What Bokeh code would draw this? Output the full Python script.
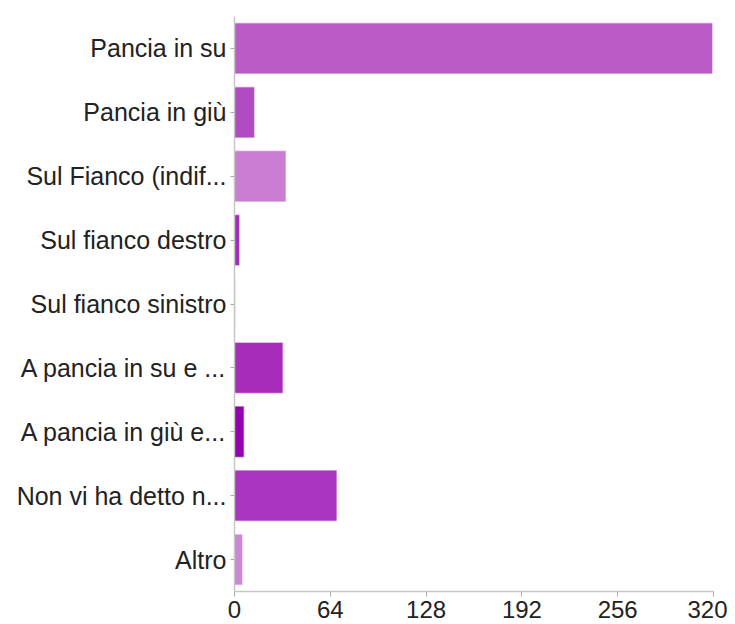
from bokeh.plotting import figure
from bokeh.models import ColumnDataSource, FactorRange, Range1d, FixedTicker
from bokeh.embed import file_html
from bokeh.resources import INLINE

categories = ["Pancia in su", "Pancia in giù", "Sul Fianco (indif...", "Sul fianco destro",
              "Sul fianco sinistro", "A pancia in su e ...", "A pancia in giù e...",
              "Non vi ha detto n...", "Altro"]
counts = [319, 13, 34, 3, 0, 32, 6, 68, 5]
colors = ["#BA5CC5", "#B04BC2", "#C97ED3", "#A32DBB", "#B04BC2",
          "#A82CBA", "#9000AE", "#AA35BE", "#CC88D6"]
x_ticks = [0, 64, 128, 192, 256, 320]

src = ColumnDataSource(dict(cat=categories, n=counts, color=colors))

p = figure(width=727, height=624, output_backend="svg", toolbar_location=None,
           y_range=FactorRange(*list(reversed(categories)), range_padding=0),
           x_range=Range1d(0, 320), min_border_left=234, min_border_right=14,
           min_border_top=16, min_border_bottom=33)

p.hbar(y="cat", right="n", left=0, height=0.78, fill_color="color",
       line_color="color", line_alpha=0.45, line_width=1.5, source=src)

p.outline_line_color = None
p.grid.visible = False
p.background_fill_color = "white"

for ax in (p.xaxis[0], p.yaxis[0]):
    ax.axis_line_color = "#c6c6c6"
    ax.axis_line_width = 1.5
    ax.major_tick_line_color = "#a8a8a8"
    ax.major_tick_out = 5
    ax.major_tick_in = 0
    ax.minor_tick_line_color = None
    ax.major_label_text_font = "Liberation Sans"
    ax.major_label_text_color = "#222222"
    ax.major_label_standoff = 4

p.yaxis.major_label_text_font_size = "25px"
p.xaxis.major_label_text_font_size = "24px"
p.xaxis.ticker = FixedTicker(ticks=x_ticks)
p.yaxis.major_tick_out = 4

open("out.html", "w").write(file_html(p, INLINE))
